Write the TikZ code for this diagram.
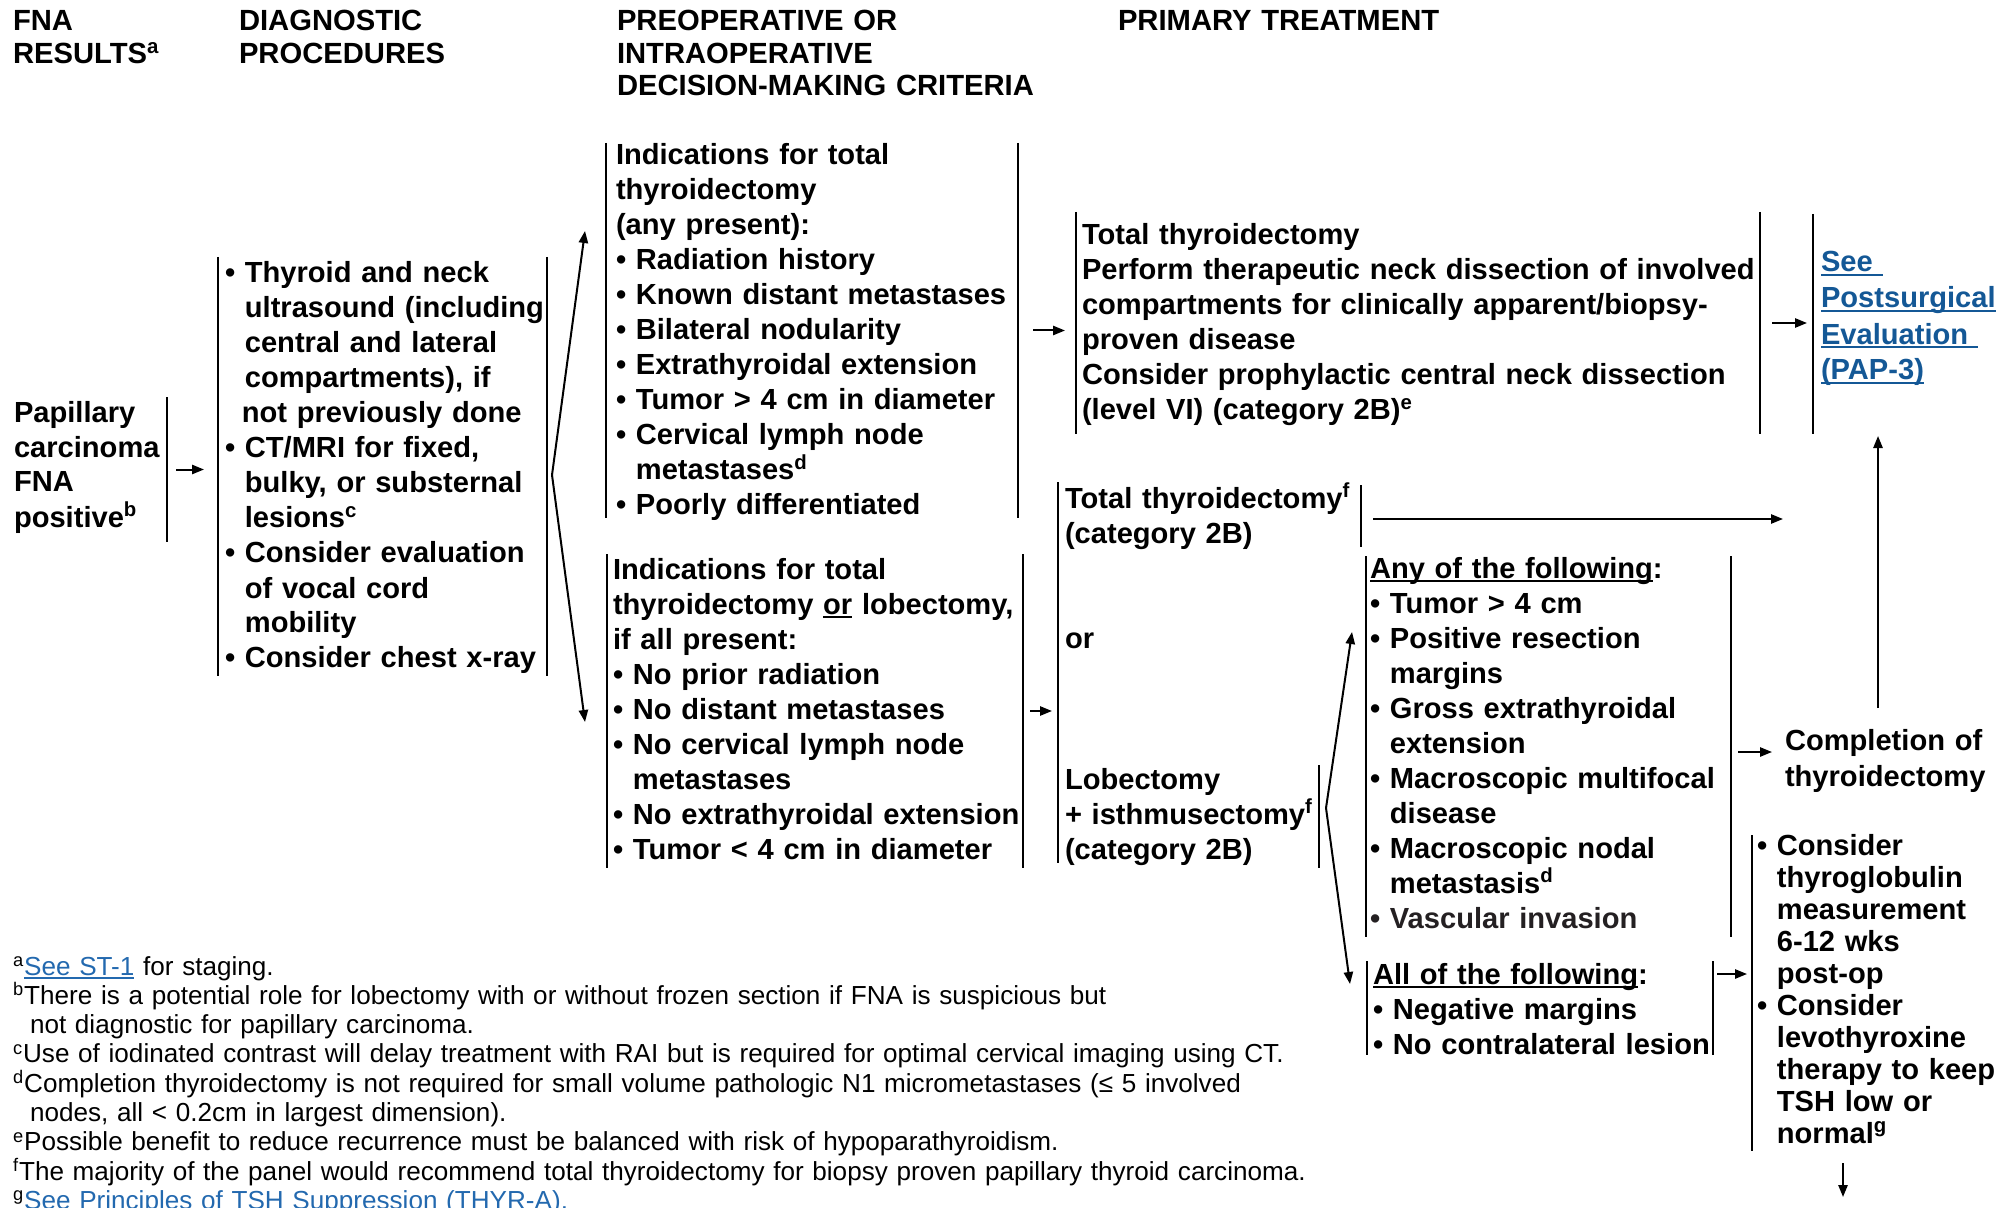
\documentclass[tikz,border=0pt]{standalone}
\usepackage{fontspec}
\setmainfont{Liberation Sans}
\usetikzlibrary{arrows.meta,fit}
\definecolor{linkblue}{RGB}{20,88,150}
\definecolor{fnblue}{RGB}{35,105,175}
\definecolor{softink}{RGB}{36,32,34}
% bullet and hanging indent for continuation lines
\newcommand\bulpt{•\ }
\newcommand\indpt{\hphantom{•\ }}
% underline set just below the baseline
\newcommand\undl[1]{\leavevmode\setbox0=\hbox{#1}\rlap{\rule[-2pt]{\wd0}{0.9pt}}#1}
\begin{document}
\begin{tikzpicture}[x=0.5pt,y=-0.5pt,
  every node/.style={inner sep=0pt, outer sep=0pt},
  hdr/.style={anchor=base west, align=left, text width=420pt, font=\fontsize{14.6}{16.25}\selectfont\bfseries},
  body/.style={anchor=base west, align=left, text width=420pt, font=\fontsize{14.55}{17.5}\selectfont\bfseries},
  tight/.style={anchor=base west, align=left, text width=420pt, font=\fontsize{14.55}{16}\selectfont\bfseries},
  note/.style={anchor=base west, align=left, text width=720pt, font=\fontsize{13.05}{14.65}\selectfont},
  frame/.style={inner sep=0pt, outer sep=0pt},
  bar/.style={line width=1pt},
  arr/.style={line width=1pt, -{Triangle[length=6pt,width=4.6pt]}},
]
\fill[white] (0,0) rectangle (2011,1208);
\useasboundingbox (0,0) rectangle (2011,1208);

% ---------- column headings ----------
\node[hdr] (hFna)  at (13,31)   {FNA\\RESULTS\textsuperscript{a}};
\node[hdr] (hDiag) at (239,31)  {DIAGNOSTIC\\PROCEDURES};
\node[hdr] (hCrit) at (617,31)  {PREOPERATIVE OR\\INTRAOPERATIVE\\DECISION-MAKING CRITERIA};
\node[hdr] (hPrim) at (1118,31) {PRIMARY TREATMENT};

% ---------- bracket frames ----------
\node[frame, fit={(14,397) (167,542)}]     (papBox)  {};
\node[frame, fit={(217.5,257) (547,676)}]  (diagBox) {};
\node[frame, fit={(606,143) (1018,518)}]   (indA)    {};
\node[frame, fit={(607,554) (1023,868)}]   (indB)    {};
\node[frame, fit={(1076,212) (1760,434)}]  (ttBox)   {};
\node[frame, fit={(1813,214) (1996,434)}]  (seeBox)  {};
\node[frame, fit={(1058,482) (1319,863)}]  (grpBox)  {};
\node[frame, fit={(1065,485) (1361,547)}]  (totF)    {};
\node[frame, fit={(1065,765) (1319,868)}]  (lobBox)  {};
\node[frame, fit={(1366,556) (1731,937)}]  (anyBox)  {};
\node[frame, fit={(1367,961) (1713,1055)}] (allBox)  {};
\node[frame, fit={(1752,835) (1995,1151)}] (bulBox)  {};

\draw[bar] (papBox.north east) -- (papBox.south east);
\draw[bar] (diagBox.north west) -- (diagBox.south west) (diagBox.north east) -- (diagBox.south east);
\draw[bar] (indA.north west) -- (indA.south west) (indA.north east) -- (indA.south east);
\draw[bar] (indB.north west) -- (indB.south west) (indB.north east) -- (indB.south east);
\draw[bar] (ttBox.north west) -- (ttBox.south west) (ttBox.north east) -- (ttBox.south east);
\draw[bar] (seeBox.north west) -- (seeBox.south west);
\draw[bar] (grpBox.north west) -- (grpBox.south west);
\draw[bar] (totF.north east) -- (totF.south east);
\draw[bar] (lobBox.north east) -- (lobBox.south east);
\draw[bar] (anyBox.north west) -- (anyBox.south west) (anyBox.north east) -- (anyBox.south east);
\draw[bar] (allBox.north west) -- (allBox.south west) (allBox.north east) -- (allBox.south east);
\draw[bar] (bulBox.north west) -- (bulBox.south west);

% ---------- texts ----------
\node[body] (papTxt) at (14,422) {Papillary\\carcinoma\\FNA\\positive\textsuperscript{b}};

\node[body] (diagTxt) at (225,283) {\bulpt Thyroid and neck\\
\indpt ultrasound (including\\
\indpt central and lateral\\
\indpt compartments), if\\
\indpt\hspace*{-1.5pt}not previously done\\
\bulpt CT/MRI for fixed,\\
\indpt bulky, or substernal\\
\indpt lesions\textsuperscript{c}\\
\bulpt Consider evaluation\\
\indpt of vocal cord\\
\indpt mobility\\
\bulpt Consider chest x-ray};

\node[body] (indATxt) at (616,165) {Indications for total\\
thyroidectomy\\
(any present):\\
\bulpt Radiation history\\
\bulpt Known distant metastases\\
\bulpt Bilateral nodularity\\
\bulpt Extrathyroidal extension\\
\bulpt Tumor > 4 cm in diameter\\
\bulpt Cervical lymph node\\
\indpt metastases\textsuperscript{d}\\
\bulpt Poorly differentiated};

\node[body] (indBTxt) at (613,579) {Indications for total\\
thyroidectomy \undl{or} lobectomy,\\
if all present:\\
\bulpt No prior radiation\\
\bulpt No distant metastases\\
\bulpt No cervical lymph node\\
\indpt metastases\\
\bulpt No extrathyroidal extension\\
\bulpt Tumor < 4 cm in diameter};

\node[body] (ttTxt) at (1082,245) {Total thyroidectomy\\
Perform therapeutic neck dissection of involved\\
compartments for clinically apparent/biopsy-\\
proven disease\\
Consider prophylactic central neck dissection\\
(level VI) (category 2B)\textsuperscript{e}};

\node[body, font=\fontsize{14.55}{18}\selectfont\bfseries, text=linkblue] (seeTxt) at (1821,272)
  {\undl{See\ }\\\undl{Postsurgical}\\\undl{Evaluation\ }\\\undl{(PAP-3)}};

\node[body] (totFTxt) at (1065,508) {Total thyroidectomy\textsuperscript{f}\\(category 2B)};
\node[body] (orTxt)   at (1065,648) {or};
\node[body] (lobTxt)  at (1065,789) {Lobectomy\\+ isthmusectomy\textsuperscript{f}\\(category 2B)};

\node[body] (anyTxt) at (1370,578) {\undl{Any of the following}:\\
\bulpt Tumor > 4 cm\\
\bulpt Positive resection\\
\indpt margins\\
\bulpt Gross extrathyroidal\\
\indpt extension\\
\bulpt Macroscopic multifocal\\
\indpt disease\\
\bulpt Macroscopic nodal\\
\indpt metastasis\textsuperscript{d}\\
{\color{softink}\bulpt Vascular invasion}};

\node[body] (allTxt) at (1373,984) {\undl{All of the following}:\\
\bulpt Negative margins\\
\bulpt No contralateral lesion};

\node[body, font=\fontsize{14.55}{18}\selectfont\bfseries] (compTxt) at (1785,750) {Completion of\\thyroidectomy};

\node[tight] (bulTxt) at (1757,855) {\bulpt Consider\\
\indpt thyroglobulin\\
\indpt measurement\\
\indpt 6-12 wks\\
\indpt post-op\\
\bulpt Consider\\
\indpt levothyroxine\\
\indpt therapy to keep\\
\indpt TSH low or\\
\indpt normal\textsuperscript{g}};

% ---------- connectors ----------
\draw[arr, shorten <=4.5pt, shorten >=6.75pt] (papBox.east) -- (papBox.east -| diagBox.west);

\coordinate (splitA) at (552,475);
\coordinate (tipA1) at (585,231);
\coordinate (tipA2) at (585,722);
\draw[arr] (splitA) -- (tipA1);
\draw[arr] (splitA) -- (tipA2);

\draw[arr, shorten <=7.5pt, shorten >=5.5pt] (indA.east) -- (indA.east -| ttBox.west);
\draw[arr, shorten <=3.5pt, shorten >=3pt] (indB.east) -- (indB.east -| grpBox.west);
\draw[arr, shorten <=6pt, shorten >=3pt] (ttBox.east) -- (ttBox.east -| seeBox.west);

\coordinate (totFEnd) at (1783,519);
\draw[arr, shorten <=6pt] (totF.east |- totFEnd) -- (totFEnd);

\coordinate (splitB) at (1326,808);
\coordinate (tipB1) at (1352,632);
\coordinate (tipB2) at (1350,984);
\draw[arr] (splitB) -- (tipB1);
\draw[arr] (splitB) -- (tipB2);

\coordinate (compIn) at (1772,752);
\draw[arr, shorten <=3.5pt] (anyBox.east |- compIn) -- (compIn);

\coordinate (compTop) at (1878,708);
\draw[arr, shorten >=1pt] (compTop) -- (compTop |- seeBox.south);

\coordinate (allOut) at (1713,974);
\draw[arr, shorten <=2pt, shorten >=2.5pt] (allOut) -- (allOut -| bulBox.west);

\coordinate (bulOutA) at (1843,1163);
\coordinate (bulOutB) at (1843,1197);
\draw[arr] (bulOutA) -- (bulOutB);

% ---------- footnotes ----------
\node[note] (notes) at (13,975) {\textsuperscript{a}{\color{fnblue}\undl{See ST-1}} for staging.\\
\textsuperscript{b}There is a potential role for lobectomy with or without frozen section if FNA is suspicious but\\
\hspace*{8.5pt}not diagnostic for papillary carcinoma.\\
\textsuperscript{c}Use of iodinated contrast will delay treatment with RAI but is required for optimal cervical imaging using CT.\\
\textsuperscript{d}Completion thyroidectomy is not required for small volume pathologic N1 micrometastases (≤ 5 involved\\
\hspace*{8.5pt}nodes, all < 0.2cm in largest dimension).\\
\textsuperscript{e}Possible benefit to reduce recurrence must be balanced with risk of hypoparathyroidism.\\
\textsuperscript{f}The majority of the panel would recommend total thyroidectomy for biopsy proven papillary thyroid carcinoma.\\
\textsuperscript{g}{\color{fnblue}\undl{See Principles of TSH Suppression (THYR-A).}}};
\end{tikzpicture}
\end{document}
